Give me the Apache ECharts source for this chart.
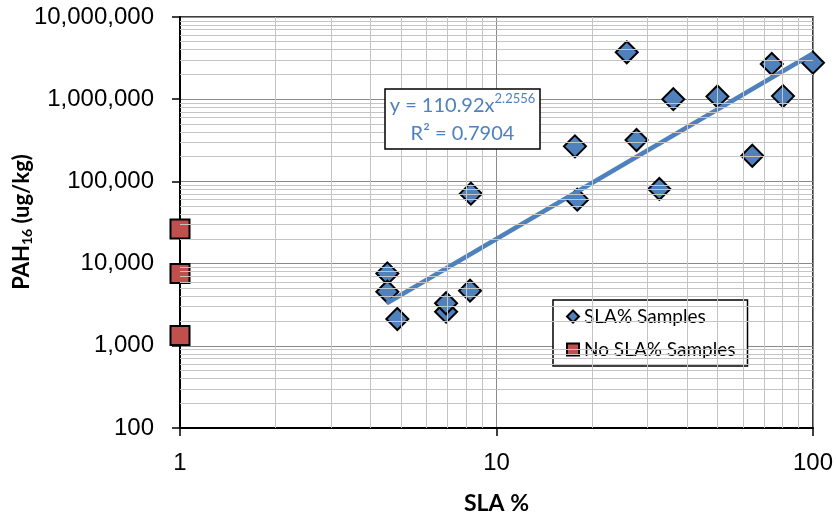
<!DOCTYPE html>
<html>
<head>
<meta charset="utf-8">
<script src="https://cdn.jsdelivr.net/npm/echarts@6/dist/echarts.min.js"></script>
<style>
html,body{margin:0;padding:0;background:#fff;}
#chart{width:836px;height:520px;}
</style>
</head>
<body>
<div id="chart"></div>
<script>
// ---- data ----
var slaX = [25.8, 74.1, 100, 36.2, 49.9, 80.4, 17.7, 27.7, 64.3, 8.3, 18.0, 32.7, 4.52, 4.52, 4.86, 8.25, 6.93, 6.93];
var slaY = [3720000, 2680000, 2780000, 1000000, 1080000, 1090000, 267000, 319000, 205000, 71000, 60000, 81000, 7600, 4550, 2120, 4680, 2600, 3290];
var noSlaX = [1, 1, 1];
var noSlaY = [26400, 7600, 1330];
var trendCoef = 110.92;
var trendExp = 2.2556;
var trendR2 = 0.7904;
var trendRange = [4.5, 100];
var xTicks = [1, 10, 100];
var yTicks = [100, 1000, 10000, 100000, 1000000, 10000000];
var seriesNames = ['SLA% Samples', 'No SLA% Samples'];

// minor gridline values (2..9 within each decade)
function minorValues(ticks) {
  var out = [];
  for (var i = 0; i < ticks.length - 1; i++) {
    for (var m = 2; m <= 9; m++) out.push(ticks[i] * m);
  }
  return out;
}
var xMinor = minorValues(xTicks);
var yMinor = minorValues(yTicks);

var slaData = slaX.map(function (x, i) { return [x, slaY[i]]; });
var noSlaData = noSlaX.map(function (x, i) { return [x, noSlaY[i]]; });
var trendData = trendRange.map(function (x) { return [x, trendCoef * Math.pow(x, trendExp)]; });

var blue = '#4F81BD';
var red = '#C0504D';
var majorGrid = '#8a8a8a';
var minorGrid = '#c4c4c4';
var calibri = 'Lato, "Open Sans", sans-serif';
var arial = '"Liberation Sans", Arial, sans-serif';

var chart = echarts.init(document.getElementById('chart'), null, {renderer: 'canvas'});
chart.setOption({
  animation: false,
  backgroundColor: '#fff',
  grid: {left: 180, right: 23, top: 17, bottom: 92, show: true, borderColor: '#000', borderWidth: 1.5, backgroundColor: 'transparent'},
  xAxis: {
    type: 'log', logBase: 10, min: 1, max: 100,
    axisLine: {show: true, lineStyle: {color: '#000', width: 2}},
    axisTick: {show: true, inside: false, length: 8, lineStyle: {color: '#000', width: 1.5}},
    axisLabel: {fontSize: 24, color: '#000', fontFamily: arial, margin: 23,
      formatter: function (v) { return String(Math.round(v)); }},
    splitLine: {show: true, lineStyle: {color: majorGrid, width: 1}},
    name: 'SLA %', nameLocation: 'middle', nameGap: 64,
    nameTextStyle: {fontSize: 23, fontWeight: 'bold', color: '#000', fontFamily: calibri}
  },
  yAxis: {
    type: 'log', logBase: 10, min: 100, max: 10000000,
    axisLine: {show: true, lineStyle: {color: '#000', width: 2}},
    axisTick: {show: true, inside: false, length: 8, lineStyle: {color: '#000', width: 1.5}},
    axisLabel: {fontSize: 24, color: '#000', fontFamily: arial, margin: 26,
      formatter: function (v) { return Math.round(v).toLocaleString('en-US'); }},
    splitLine: {show: true, lineStyle: {color: majorGrid, width: 1}}
  },
  legend: {
    data: seriesNames,
    orient: 'vertical', left: 553, top: 300,
    backgroundColor: '#fff', borderColor: '#000', borderWidth: 1.5,
    padding: [7, 12, 7, 13], itemGap: 14, itemWidth: 12, itemHeight: 12,
    textStyle: {fontSize: 19, color: '#000', fontFamily: calibri}
  },
  graphic: [
    {
      type: 'text', x: 22, y: 222, rotation: Math.PI / 2,
      style: {
        text: 'PAH{sub|16} (ug/kg)',
        align: 'center', verticalAlign: 'middle',
        fill: '#000', font: 'bold 22px ' + calibri,
        rich: {sub: {fontSize: 14, fontWeight: 'bold', fontFamily: calibri, verticalAlign: 'bottom', fill: '#000', padding: [10, 0, 0, 0]}}
      }
    },
    {
      type: 'rect', shape: {x: 385, y: 89, width: 155, height: 60},
      style: {fill: '#fff', stroke: '#000', lineWidth: 1.5}, z: 10
    },
    {
      type: 'text', x: 462.5, y: 120, z: 11,
      style: {
        text: 'y = ' + trendCoef + 'x{sup|' + trendExp + '}\nR² = ' + trendR2,
        align: 'center', verticalAlign: 'middle',
        fill: blue, font: '20px ' + calibri, lineHeight: 28,
        rich: {sup: {fontSize: 13, fontFamily: calibri, fill: blue, verticalAlign: 'top', padding: [0, 0, 10, 0]}}
      }
    }
  ],
  series: [
    {
      name: 'minor-grid', type: 'line', data: [], z: 1, silent: true,
      markLine: {
        silent: true, symbol: ['none', 'none'], animation: false,
        label: {show: false},
        lineStyle: {color: minorGrid, width: 1, type: 'solid'},
        emphasis: {disabled: true},
        data: xMinor.map(function (v) { return {xAxis: v}; }).concat(yMinor.map(function (v) { return {yAxis: v}; }))
      }
    },
    {
      name: seriesNames[0], type: 'scatter', data: slaData, z: 3,
      symbol: 'diamond', symbolSize: 22,
      itemStyle: {color: blue, borderColor: '#000', borderWidth: 2, opacity: 1}
    },
    {
      name: seriesNames[1], type: 'scatter', data: noSlaData, z: 3,
      symbol: 'rect', symbolSize: 19,
      itemStyle: {color: red, borderColor: '#000', borderWidth: 2, opacity: 1}
    },
    {
      name: 'Trend', type: 'line', data: trendData, z: 4,
      symbol: 'none', showSymbol: false,
      lineStyle: {color: blue, width: 4.5}
    }
  ]
});
</script>
</body>
</html>
